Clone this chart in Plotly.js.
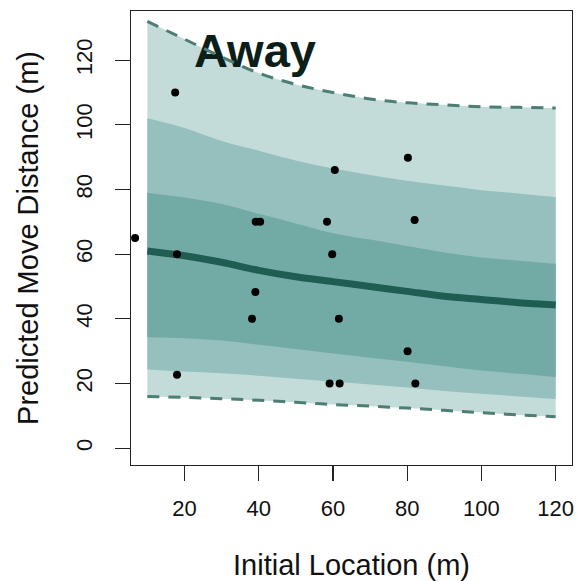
<!DOCTYPE html>
<html>
<head>
<meta charset="utf-8">
<script src="https://cdn.plot.ly/plotly-3.0.1.min.js"></script>
<style>html,body{margin:0;padding:0;background:#fff;}#chart{width:579px;height:581px;}</style>
</head>
<body>
<div id="chart"></div>
<script>
// Prediction grid along initial location (m)
const bandX = [10, 20, 30, 40, 50, 60, 70, 80, 90, 100, 110, 120];
// Outer (dashed) interval
const outerUpper = [132, 126.5, 121, 116, 112.5, 110, 108, 106.8, 106.2, 105.6, 105.4, 105.2];
const outerLower = [16, 15.7, 15.3, 14.8, 14.2, 13.5, 13, 12.4, 11.7, 11, 10.3, 9.7];
// Middle interval
const midUpper = [102, 99, 95, 92, 89, 86.5, 84.5, 82.7, 81.2, 79.8, 78.8, 77.7];
const midLower = [24.3, 23.7, 23.2, 22.4, 21.5, 20.6, 19.7, 18.8, 17.7, 16.8, 16, 15.2];
// Inner interval
const innerUpper = [79, 77.5, 75.5, 72.5, 69.5, 66.5, 64.5, 62.5, 60.5, 59, 58, 57];
const innerLower = [34.3, 34, 33.3, 32, 30.7, 29.3, 28, 26.7, 25.3, 24, 23, 22];
// Median prediction
const medianLine = [61, 59.5, 57.5, 55, 53, 51.5, 50, 48.5, 47, 46, 45, 44.3];

// Observed moves
const obsX = [6.7, 17.5, 18, 18, 39.2, 40.4, 39.1, 38.2, 58.4, 60.5, 59.8, 61.6, 59.1, 61.8, 80.2, 82, 80.1, 82.2];
const obsY = [65, 110, 60, 22.7, 70, 70, 48.3, 40, 70, 86, 60, 40, 20, 20, 89.8, 70.6, 30, 20];

const xTicks = [20, 40, 60, 80, 100, 120];
const yTicks = [0, 20, 40, 60, 80, 100, 120];
const panelLabel = "Away";

const cOuter = "#c4dcd9", cMid = "#96c0bd", cInner = "#72aba5";
const cMedian = "#1f5d53", cDash = "#4d7d74";
const font = "Liberation Sans, Arial, Helvetica, sans-serif";

function band(lo, hi, color) {
  return [
    {x: bandX, y: lo, mode: "lines", line: {width: 0, color: color, shape: "spline"}, hoverinfo: "skip", showlegend: false},
    {x: bandX, y: hi, mode: "lines", fill: "tonexty", fillcolor: color, line: {width: 0, color: color, shape: "spline"}, hoverinfo: "skip", showlegend: false}
  ];
}

const traces = [].concat(
  band(outerLower, outerUpper, cOuter),
  band(midLower, midUpper, cMid),
  band(innerLower, innerUpper, cInner),
  [
    {x: [39], y: [121.5], mode: "text", text: [panelLabel], textposition: "middle center",
     textfont: {family: font, size: 47, color: "#0b1e1a", weight: 700}, hoverinfo: "skip", showlegend: false},
    {x: bandX, y: outerUpper, mode: "lines", line: {color: cDash, width: 3, dash: "12px,9px", shape: "spline"}, showlegend: false},
    {x: bandX, y: outerLower, mode: "lines", line: {color: cDash, width: 3, dash: "12px,9px", shape: "spline"}, showlegend: false},
    {x: bandX, y: medianLine, mode: "lines", line: {color: cMedian, width: 7, shape: "spline"}, showlegend: false},
    {x: obsX, y: obsY, mode: "markers", marker: {color: "#000", size: 8}, showlegend: false}
  ]
);

const layout = {
  width: 579, height: 581,
  margin: {l: 131, r: 7, t: 11, b: 116},
  paper_bgcolor: "#fff", plot_bgcolor: "#fff",
  font: {family: font, color: "#111"},
  showlegend: false,
  xaxis: {
    range: [5.6, 124.4], tickvals: xTicks, ticktext: xTicks.map(String),
    showgrid: false, zeroline: false, showline: true, mirror: true,
    linecolor: "#222", linewidth: 1.3,
    ticks: "outside", ticklen: 15, tickwidth: 1.3, tickcolor: "#222",
    tickfont: {size: 22, family: font, color: "#111"},
    ticklabelstandoff: 8,
    title: {text: "Initial Location (m)", font: {size: 29, family: font, color: "#111"}, standoff: 36}
  },
  yaxis: {
    range: [-5.2, 135.2], tickvals: yTicks, ticktext: yTicks.map(String),
    showgrid: false, zeroline: false, showline: true, mirror: true,
    linecolor: "#222", linewidth: 1.3,
    ticks: "outside", ticklen: 15, tickwidth: 1.3, tickcolor: "#222",
    tickangle: -90,
    tickfont: {size: 22, family: font, color: "#111"},
    ticklabelstandoff: 14,
    title: {text: "Predicted Move Distance (m)", font: {size: 29, family: font, color: "#111"}, standoff: 24}
  }
};

Plotly.newPlot("chart", traces, layout, {displayModeBar: false, staticPlot: true});
</script>
</body>
</html>
